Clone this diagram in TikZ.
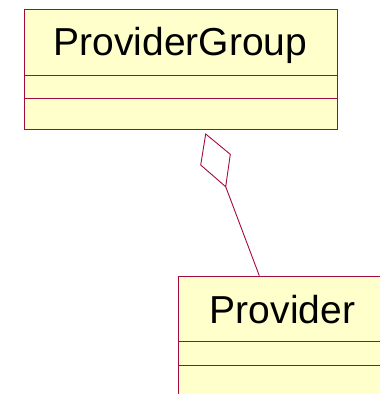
\documentclass[tikz,border=0pt]{standalone}
\usepackage{fontspec}
\setmainfont{Liberation Sans}
\definecolor{umlborder}{RGB}{163,10,64}
\definecolor{umlfill}{RGB}{255,255,204}
\tikzset{
  classbox/.style={draw=umlborder, fill=umlfill, line width=1.1pt, rectangle, inner sep=0pt, anchor=north west},
  classname/.style={font=\fontsize{39}{39}\selectfont, inner sep=0pt, anchor=base},
  compline/.style={draw=umlborder, line width=0.9pt},
  assoc/.style={draw=umlborder, line width=0.9pt, line join=miter}
}
\begin{document}
\begin{tikzpicture}[x=1pt,y=-1pt]
  \useasboundingbox (0,0) rectangle (380,394);
  \clip (0,0) rectangle (380,394);

  % aggregate class
  \node[classbox, minimum width=313.5pt, minimum height=120pt] (pg) at (23.5,8.7) {};
  \node[classname] (pgname) at (180.5,55) {ProviderGroup};
  \draw[compline] (23.5,75) -- (337,75);
  \draw[compline] (23.5,98.7) -- (337,98.7);

  % part class
  \node[classbox, minimum width=212pt, minimum height=140pt] (pv) at (178.3,275.7) {};
  \node[classname] (pvname) at (282.5,323.3) {Provider};
  \draw[compline] (178.3,341) -- (392,341);
  \draw[compline] (178.3,365.3) -- (392,365.3);

  % aggregation diamond and association line
  \coordinate (dtop) at (205.7,134);
  \coordinate (dright) at (230.3,154.3);
  \coordinate (dbot) at (225.7,186.7);
  \coordinate (dleft) at (200.7,165);
  \coordinate (pvend) at (259.3,275.7);
  \draw[assoc, fill=white] (dtop) -- (dright) -- (dbot) -- (dleft) -- cycle;
  \draw[assoc] (dbot) -- (pvend);
\end{tikzpicture}
\end{document}
